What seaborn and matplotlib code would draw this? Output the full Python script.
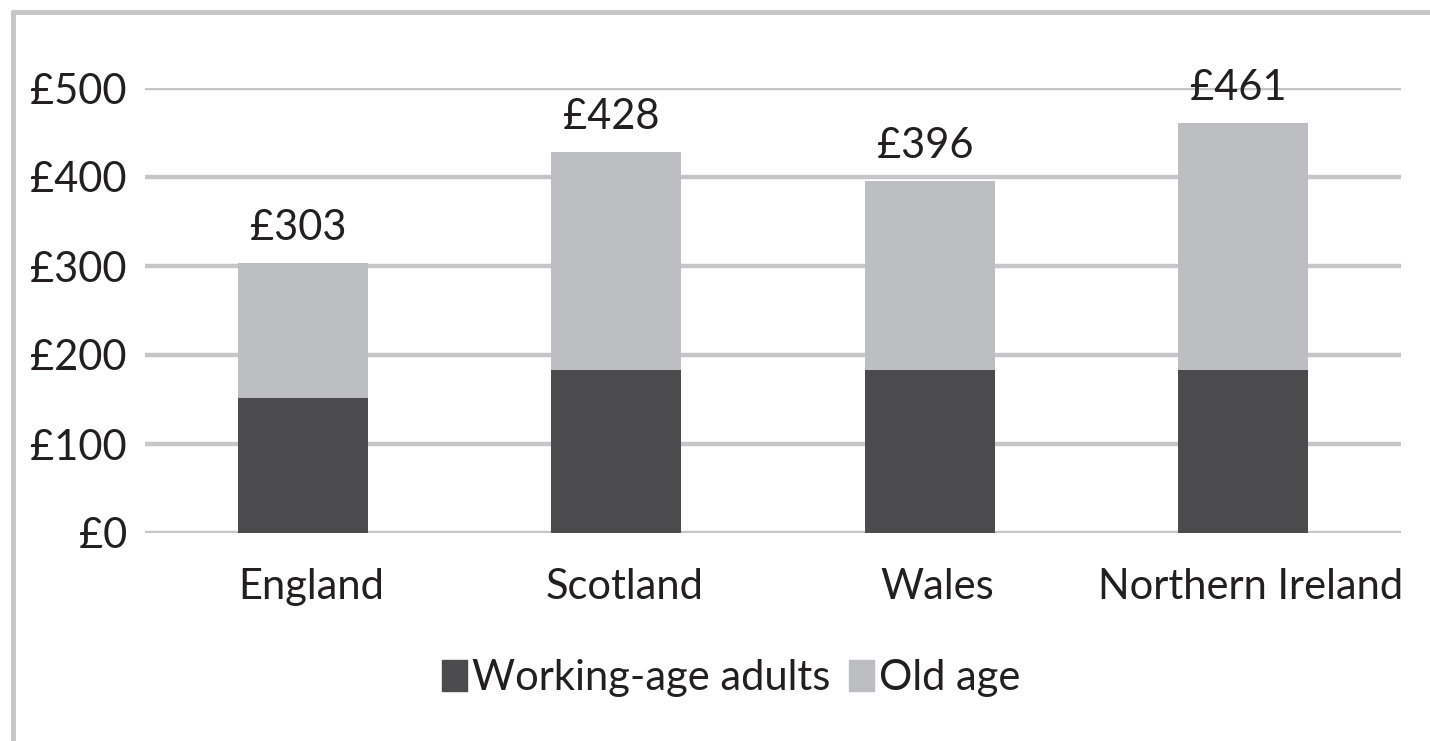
import matplotlib
matplotlib.use("Agg")
import matplotlib.pyplot as plt
import matplotlib.transforms as mtransforms
from matplotlib.lines import Line2D
import seaborn as sns
import pandas as pd

regions = ["England", "Scotland", "Wales", "Northern Ireland"]
working_age = [152, 183, 183, 183]
old_age = [151, 245, 213, 278]
y_ticks = [0, 100, 200, 300, 400, 500]

DARK = "#4b4b4d"
LIGHT = "#bdbec1"
GRID = "#c6c6c8"
TEXT = "#231f20"
FS = 30

sns.set_theme(style="white")
plt.rcParams["font.family"] = ["Lato", "DejaVu Sans"]

totals = [w + o for w, o in zip(working_age, old_age)]
df = pd.DataFrame({"region": regions, "working": working_age, "total": totals})

W, H = 1430, 741
fig = plt.figure(figsize=(W / 100, H / 100), dpi=100)
ax = fig.add_axes([145 / W, 1 - 533 / H, (1401 - 145) / W, (533 - 88) / H])

# stacked bars: full height in light grey, working-age share over it in dark grey
sns.barplot(data=df, x="region", y="total", color=LIGHT, width=0.415,
            saturation=1, linewidth=0, ax=ax, zorder=3)
sns.barplot(data=df, x="region", y="working", color=DARK, width=0.415,
            saturation=1, linewidth=0, ax=ax, zorder=4)

for i, t in enumerate(totals):
    ax.text(i - 0.015, t + 18, f"£{t}", ha="center", va="bottom", fontsize=FS,
            color=TEXT, clip_on=False, zorder=5)

ax.set_xlim(-0.505, 3.505)
ax.set_ylim(0, 500)
ax.set_yticks(y_ticks)
ax.set_yticklabels([f"£{v}" for v in y_ticks])
ax.yaxis.grid(True, color=GRID, linewidth=3.2, zorder=0)
ax.set_axisbelow(True)
for s in ax.spines.values():
    s.set_visible(False)
ax.tick_params(axis="y", length=0, pad=13, labelsize=FS, labelcolor=TEXT)
ax.tick_params(axis="x", length=0, pad=25, labelsize=FS, labelcolor=TEXT)
ax.set_xlabel("")
ax.set_ylabel("")

# category names sit a little right of the bar centres
shift = mtransforms.ScaledTranslation(8 / 100, 0, fig.dpi_scale_trans)
for lab in ax.get_xticklabels():
    lab.set_transform(lab.get_transform() + shift)

handles = [plt.Rectangle((0, 0), 1, 1, color=DARK),
           plt.Rectangle((0, 0), 1, 1, color=LIGHT)]
fig.legend(handles, ["Working-age adults", "Old age"], loc="center",
           bbox_to_anchor=(731 / W, 1 - 678 / H), ncol=2, frameon=False,
           fontsize=FS, handlelength=0.6, handleheight=0.8, handletextpad=0.12,
           columnspacing=0.45, labelcolor=TEXT)

# outer frame
fig.add_artist(Line2D([13 / W, 13 / W], [0, 1 - 12 / H], color=GRID, linewidth=3.5,
                      transform=fig.transFigure))
fig.add_artist(Line2D([13 / W, 1], [1 - 12 / H, 1 - 12 / H], color=GRID, linewidth=3.5,
                      transform=fig.transFigure))

fig.savefig("out.png", dpi=100, facecolor="white")
